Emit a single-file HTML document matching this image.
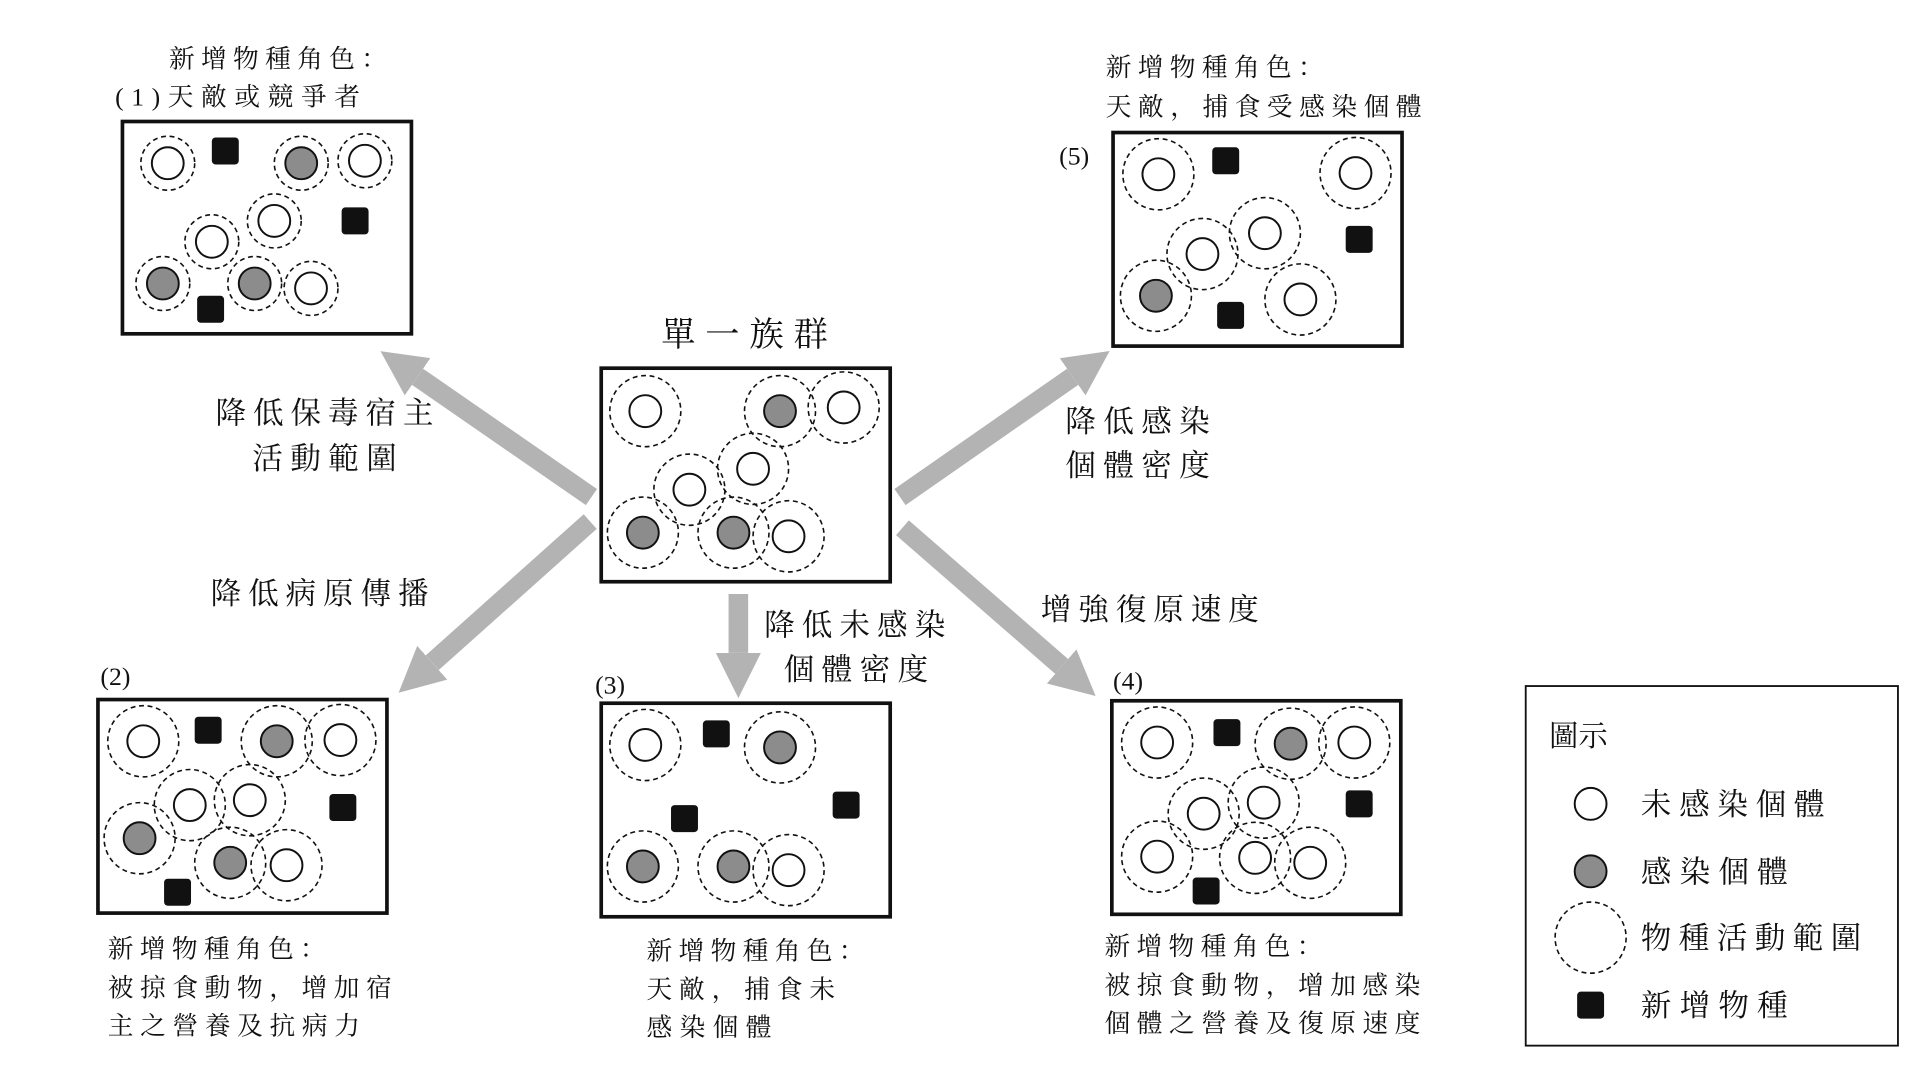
<!DOCTYPE html>
<html><head><meta charset="utf-8"><style>html,body{margin:0;padding:0;background:#fff}svg{display:block}
text{font-family:"Liberation Serif","Noto Serif CJK SC","Noto Serif CJK TC",serif;fill:#111}</style></head>
<body>
<svg width="1920" height="1080" viewBox="0 0 1568 880" preserveAspectRatio="none" xmlns="http://www.w3.org/2000/svg">
<defs>
<marker id="ah" markerUnits="strokeWidth" markerWidth="2.3" markerHeight="2.6" viewBox="0 0 10 10" refX="0" refY="5" orient="auto"><path d="M0,0 L10,5 L0,10 z" fill="#b3b3b3"/></marker>
<g id="o"><circle r="13" fill="#fff" stroke="#111" stroke-width="1.6"/></g>
<g id="g"><circle r="13" fill="#8c8c8c" stroke="#111" stroke-width="1.6"/></g>
<g id="d"><circle r="29" fill="none" stroke="#111" stroke-width="1.3" stroke-dasharray="4,3"/></g>
<g id="d2"><circle r="22" fill="none" stroke="#111" stroke-width="1.3" stroke-dasharray="4,3"/></g>
<g id="b"><rect x="-11" y="-11" width="22" height="22" rx="3" fill="#111"/></g>
</defs>
<g fill="none" stroke="#111" stroke-width="3">
<rect x="100" y="99" width="236" height="173"/>
<rect x="909" y="108" width="236" height="174"/>
<rect x="491" y="300" width="236" height="174"/>
<rect x="80" y="570" width="236" height="174"/>
<rect x="491" y="573" width="236" height="174"/>
<rect x="908" y="571" width="236" height="174"/>
</g>
<rect x="1246" y="559" width="304" height="293" fill="none" stroke="#111" stroke-width="1.5"/>
<g stroke="#b3b3b3" stroke-width="16" marker-end="url(#ah)">
<line x1="483" y1="405" x2="341" y2="307"/>
<line x1="735" y1="405" x2="876" y2="307"/>
<line x1="482" y1="425" x2="353" y2="540"/>
<line x1="603" y1="484" x2="603" y2="532"/>
<line x1="737" y1="430" x2="867" y2="543"/>
</g>
<!-- box1 -->
<use href="#d2" x="137" y="133"/><use href="#o" x="137" y="133"/>
<use href="#b" x="184" y="123"/>
<use href="#d2" x="246" y="133"/><use href="#g" x="246" y="133"/>
<use href="#d2" x="298" y="131"/><use href="#o" x="298" y="131"/>
<use href="#d2" x="224" y="180"/><use href="#o" x="224" y="180"/>
<use href="#d2" x="173" y="197"/><use href="#o" x="173" y="197"/>
<use href="#b" x="290" y="180"/>
<use href="#d2" x="133" y="231"/><use href="#g" x="133" y="231"/>
<use href="#d2" x="208" y="231"/><use href="#g" x="208" y="231"/>
<use href="#d2" x="254" y="235"/><use href="#o" x="254" y="235"/>
<use href="#b" x="172" y="252"/>
<!-- box5 -->
<use href="#d" x="946" y="142"/><use href="#o" x="946" y="142"/>
<use href="#b" x="1001" y="131"/>
<use href="#d" x="1107" y="141"/><use href="#o" x="1107" y="141"/>
<use href="#d" x="1033" y="190"/><use href="#o" x="1033" y="190"/>
<use href="#d" x="982" y="207"/><use href="#o" x="982" y="207"/>
<use href="#b" x="1110" y="195"/>
<use href="#d" x="944" y="241"/><use href="#g" x="944" y="241"/>
<use href="#b" x="1005" y="257"/>
<use href="#d" x="1062" y="244"/><use href="#o" x="1062" y="244"/>
<!-- center -->
<use href="#d" x="527" y="335"/><use href="#o" x="527" y="335"/>
<use href="#d" x="637" y="335"/><use href="#g" x="637" y="335"/>
<use href="#d" x="689" y="332"/><use href="#o" x="689" y="332"/>
<use href="#d" x="615" y="382"/><use href="#o" x="615" y="382"/>
<use href="#d" x="563" y="399"/><use href="#o" x="563" y="399"/>
<use href="#d" x="525" y="434"/><use href="#g" x="525" y="434"/>
<use href="#d" x="599" y="434"/><use href="#g" x="599" y="434"/>
<use href="#d" x="644" y="437"/><use href="#o" x="644" y="437"/>
<!-- box2 -->
<use href="#d" x="117" y="604"/><use href="#o" x="117" y="604"/>
<use href="#b" x="170" y="595"/>
<use href="#d" x="226" y="604"/><use href="#g" x="226" y="604"/>
<use href="#d" x="278" y="603"/><use href="#o" x="278" y="603"/>
<use href="#d" x="204" y="652"/><use href="#o" x="204" y="652"/>
<use href="#d" x="155" y="656"/><use href="#o" x="155" y="656"/>
<use href="#b" x="280" y="658"/>
<use href="#d" x="114" y="683"/><use href="#g" x="114" y="683"/>
<use href="#d" x="188" y="703"/><use href="#g" x="188" y="703"/>
<use href="#d" x="234" y="705"/><use href="#o" x="234" y="705"/>
<use href="#b" x="145" y="727"/>
<!-- box3 -->
<use href="#d" x="527" y="607"/><use href="#o" x="527" y="607"/>
<use href="#b" x="585" y="598"/>
<use href="#d" x="637" y="609"/><use href="#g" x="637" y="609"/>
<use href="#b" x="691" y="656"/>
<use href="#b" x="559" y="667"/>
<use href="#d" x="525" y="706"/><use href="#g" x="525" y="706"/>
<use href="#d" x="599" y="706"/><use href="#g" x="599" y="706"/>
<use href="#d" x="644" y="709"/><use href="#o" x="644" y="709"/>
<!-- box4 -->
<use href="#d" x="945" y="605"/><use href="#o" x="945" y="605"/>
<use href="#b" x="1002" y="597"/>
<use href="#d" x="1054" y="606"/><use href="#g" x="1054" y="606"/>
<use href="#d" x="1106" y="605"/><use href="#o" x="1106" y="605"/>
<use href="#d" x="1032" y="654"/><use href="#o" x="1032" y="654"/>
<use href="#d" x="983" y="663"/><use href="#o" x="983" y="663"/>
<use href="#b" x="1110" y="655"/>
<use href="#d" x="945" y="698"/><use href="#o" x="945" y="698"/>
<use href="#d" x="1025" y="699"/><use href="#o" x="1025" y="699"/>
<use href="#d" x="1070" y="703"/><use href="#o" x="1070" y="703"/>
<use href="#b" x="985" y="726"/>
<!-- legend -->
<text x="1265" y="608" font-size="24">圖示</text>
<use href="#o" x="1299" y="655"/><text x="1340" y="664" font-size="25" textLength="150">未感染個體</text>
<use href="#g" x="1299" y="710"/><text x="1340" y="719" font-size="25" textLength="120">感染個體</text>
<use href="#d" x="1299" y="764"/><text x="1340" y="773" font-size="25" textLength="180">物種活動範圍</text>
<use href="#b" x="1299" y="819"/><text x="1340" y="828" font-size="25" textLength="120">新增物種</text>
<!-- labels -->
<g font-size="21">
<text x="138" y="55" textLength="178">新增物種角色：</text>
<text x="94" y="86" textLength="200">(1)天敵或競爭者</text>
<text x="903" y="62" textLength="178">新增物種角色：</text>
<text x="903" y="94" textLength="258">天敵，捕食受感染個體</text>
<text x="865" y="134">(5)</text>
<text x="82" y="558">(2)</text>
<text x="486" y="565">(3)</text>
<text x="909" y="562">(4)</text>
<text x="88" y="780" textLength="178">新增物種角色：</text>
<text x="88" y="812" textLength="232">被掠食動物，增加宿</text>
<text x="88" y="843" textLength="206">主之營養及抗病力</text>
<text x="528" y="782" textLength="178">新增物種角色：</text>
<text x="528" y="813" textLength="154">天敵，捕食未</text>
<text x="528" y="844" textLength="102">感染個體</text>
<text x="902" y="778" textLength="178">新增物種角色：</text>
<text x="902" y="810" textLength="258">被掠食動物，增加感染</text>
<text x="902" y="841" textLength="258">個體之營養及復原速度</text>
</g>
<g font-size="25">
<text x="540" y="282" font-size="28" textLength="136">單一族群</text>
<text x="176" y="345" textLength="178">降低保毒宿主</text>
<text x="206" y="382" textLength="118">活動範圍</text>
<text x="870" y="352" textLength="118">降低感染</text>
<text x="870" y="388" textLength="118">個體密度</text>
<text x="172" y="492" textLength="178">降低病原傳播</text>
<text x="624" y="518" textLength="148">降低未感染</text>
<text x="640" y="554" textLength="118">個體密度</text>
<text x="850" y="505" textLength="178">增強復原速度</text>
</g>
</svg>
</body></html>
